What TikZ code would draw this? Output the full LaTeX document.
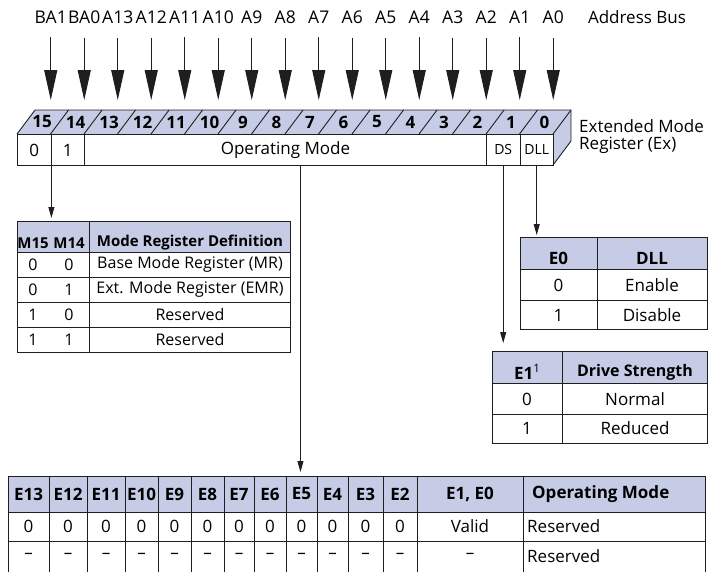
\documentclass[tikz,border=0pt]{standalone}
\usepackage{fontspec}
\setmainfont{Open Sans}
\usetikzlibrary{arrows.meta,positioning,calc}
\definecolor{hdr}{HTML}{C6CCE5}
\definecolor{rule}{HTML}{1E1E1E}

\begin{document}
\begin{tikzpicture}[x=1pt, y=-1pt,
 txt/.style={font=\fontsize{17}{17}\selectfont, inner sep=0pt},
 tabtxt/.style={font=\fontsize{16}{17}\selectfont, inner sep=0pt},
 hd/.style={font=\fontsize{17}{17}\selectfont\bfseries, inner sep=0pt},
 smallhd/.style={font=\fontsize{15}{17}\selectfont\bfseries, inner sep=0pt},
 small/.style={font=\fontsize{14}{15}\selectfont, inner sep=0pt},
 cell/.style={draw=rule, line width=0.9pt, anchor=north west, inner sep=0pt, minimum height=31pt},
 headbox/.style={draw=rule, fill=hdr, line width=0.9pt, anchor=north west, inner sep=0pt},
 bodybox/.style={draw=rule, line width=0.9pt, anchor=north west, inner sep=0pt},
 grid/.style={rule, line width=0.9pt},
 bus/.style={-{Triangle[length=30pt,width=13pt]}, rule, line width=1pt, shorten <=14pt},
 tip/.style={-{Triangle[length=11pt,width=6pt]}, rule, line width=0.9pt},
]
\useasboundingbox (0,0) rectangle (708,571);

 % address bus
 \foreach \lbl [count=\k from 0] in {BA1,BA0,A13,A12,A11,A10,A9,A8,A7,A6,A5,A4,A3,A2,A1,A0}{
   \node[txt, font=\fontsize{17.5}{17}\selectfont] (ab\k) at ({50.75+\k*33.5},17) {\lbl};
   \coordinate (pin\k) at ({50.75+\k*33.5},100);
   \draw[bus] (ab\k) -- (pin\k);
 }
 \node[txt] (abus) at (637,17) {Address Bus};

 % register: top and side faces
 \fill[hdr] (17,134) -- (35,110) -- (571,110) -- (553,134) -- cycle;
 \fill[hdr] (553,134) -- (571,110) -- (571,141) -- (553,165) -- cycle;
 \draw[grid, line join=round] (17,134) -- (35,110) -- (571,110) -- (571,141) -- (553,165);
 \draw[grid] (553,134) -- (571,110);
 \foreach \k in {1,...,15} \draw[grid] ({17+\k*33.5},134) -- ++(18,-24);
 \foreach \k in {0,...,15}{
   \pgfmathtruncatemacro{\b}{15-\k}
   \node[hd] (bit\b) at ({17+\k*33.5+25},122) {\b};
 }
 % register: front cells
 \node[cell, txt, minimum width=33.5pt] (r15) at (17,134) {0};
 \node[cell, txt, minimum width=33.5pt] (r14) at (50.5,134) {1};
 \node[cell, txt, minimum width=402pt] (rop) at (84,134) {Operating Mode};
 \node[cell, small, minimum width=33.5pt] (rds) at (486,134) {DS};
 \node[cell, small, minimum width=33.5pt] (rdll) at (519.5,134) {DLL};
 \node[txt, anchor=west, align=left] (regname) at (579,137) {Extended Mode\\Register (Ex)};

 % mode register definition
 \node[headbox, minimum width=273pt, minimum height=31pt] (mhead) at (17,221) {};
 \node[bodybox, minimum width=273pt, minimum height=100pt] (mbody) at (17,252) {};
 \draw[grid] (89,221) -- (89,352);
 \foreach \y in {277,302,327} \draw[grid] (17,\y) -- (290,\y);
 \node[smallhd] (m15) at (33,243) {M15};
 \node[smallhd] (m14) at (69,243) {M14};
 \node[smallhd] (mdef) at (190,243) {Mode Register Definition};
 \foreach \a/\b/\t [count=\r from 0] in {0/0/Base Mode Register (MR), 0/1/Ext. Mode Register (EMR), 1/0/Reserved, 1/1/Reserved}{
   \node[tabtxt] (ma\r) at (33,{264.5+\r*25}) {\a};
   \node[tabtxt] (mb\r) at (69,{264.5+\r*25}) {\b};
   \node[tabtxt] (mt\r) at (190,{264.5+\r*25}) {\t};
 }

 % DLL
 \node[headbox, minimum width=187pt, minimum height=32pt] (dhead) at (520,237) {};
 \node[bodybox, minimum width=187pt, minimum height=60pt] (dbody) at (520,269) {};
 \draw[grid] (597,237) -- (597,329);
 \draw[grid] (520,300) -- (707,300);
 \node[hd] (de0) at (558.5,258) {E0};
 \node[hd] (ddll) at (652,258) {DLL};
 \node[txt] (dv0) at (558.5,285) {0};
 \node[txt] (dt0) at (652,285) {Enable};
 \node[txt] (dv1) at (558.5,315) {1};
 \node[txt] (dt1) at (652,315) {Disable};

 % drive strength
 \node[headbox, minimum width=215pt, minimum height=32pt] (shead) at (492,351) {};
 \node[bodybox, minimum width=215pt, minimum height=60pt] (sbody) at (492,383) {};
 \draw[grid] (562,351) -- (562,443);
 \draw[grid] (492,414) -- (707,414);
 \node[hd] (se1) at (527,372) {E1\raisebox{0.4em}{\mdseries\fontsize{11.5}{12}\selectfont 1}};
 \node[hd, font=\fontsize{16}{17}\selectfont\bfseries] (sdrv) at (635,372) {Drive Strength};
 \node[txt] (sv0) at (527,399) {0};
 \node[txt] (st0) at (635,399) {Normal};
 \node[txt] (sv1) at (527,428.5) {1};
 \node[txt] (st1) at (635,428.5) {Reduced};

 % operating mode
 \node[headbox, minimum width=697pt, minimum height=36pt] (ohead) at (8,476) {};
 \draw[grid] (8,512) -- (8,572);
 \draw[grid] (705,512) -- (705,572);
 \draw[grid] (8,541) -- (705,541);
 \foreach \x in {49,87,125,158,191,224,254,286,317,348,383,417,523} \draw[grid] (\x,476) -- (\x,572);
 \foreach \lbl/\cx [count=\c from 0] in {E13/28.5,E12/68,E11/106,E10/141.5,E9/174.5,E8/207.5,E7/239,E6/270,E5/301.5,E4/332.5,E3/365.5,E2/400}{
   \node[hd] (oe\c) at (\cx,494) {\lbl};
   \node[txt] (oz\c) at (\cx,526.5) {0};
   \node[txt] (od\c) at (\cx,556) {--};
 }
 \node[hd] (oe01) at (470,494) {E1, E0};
 \node[txt] (ovalid) at (470,526.5) {Valid};
 \node[txt] (odash) at (470,556) {--};
 \node[hd, anchor=west] (omode) at (532,494) {Operating Mode};
 \node[txt, anchor=west] (ores0) at (527,526.5) {Reserved};
 \node[txt, anchor=west] (ores1) at (527,556) {Reserved};

 % register bits to tables
 \draw[tip, shorten >=3pt] (r15.south east) -- (r15.south east |- mhead.north);
 \draw[tip, shorten >=4pt] ([xshift=15pt]rop.south) -- ([xshift=15pt]rop.south |- ohead.north);
 \draw[tip, shorten >=8pt] (rds.south) -- (rds.south |- shead.north);
 \draw[tip, shorten >=2pt] (rdll.south) -- (rdll.south |- dhead.north);
\end{tikzpicture}
\end{document}
